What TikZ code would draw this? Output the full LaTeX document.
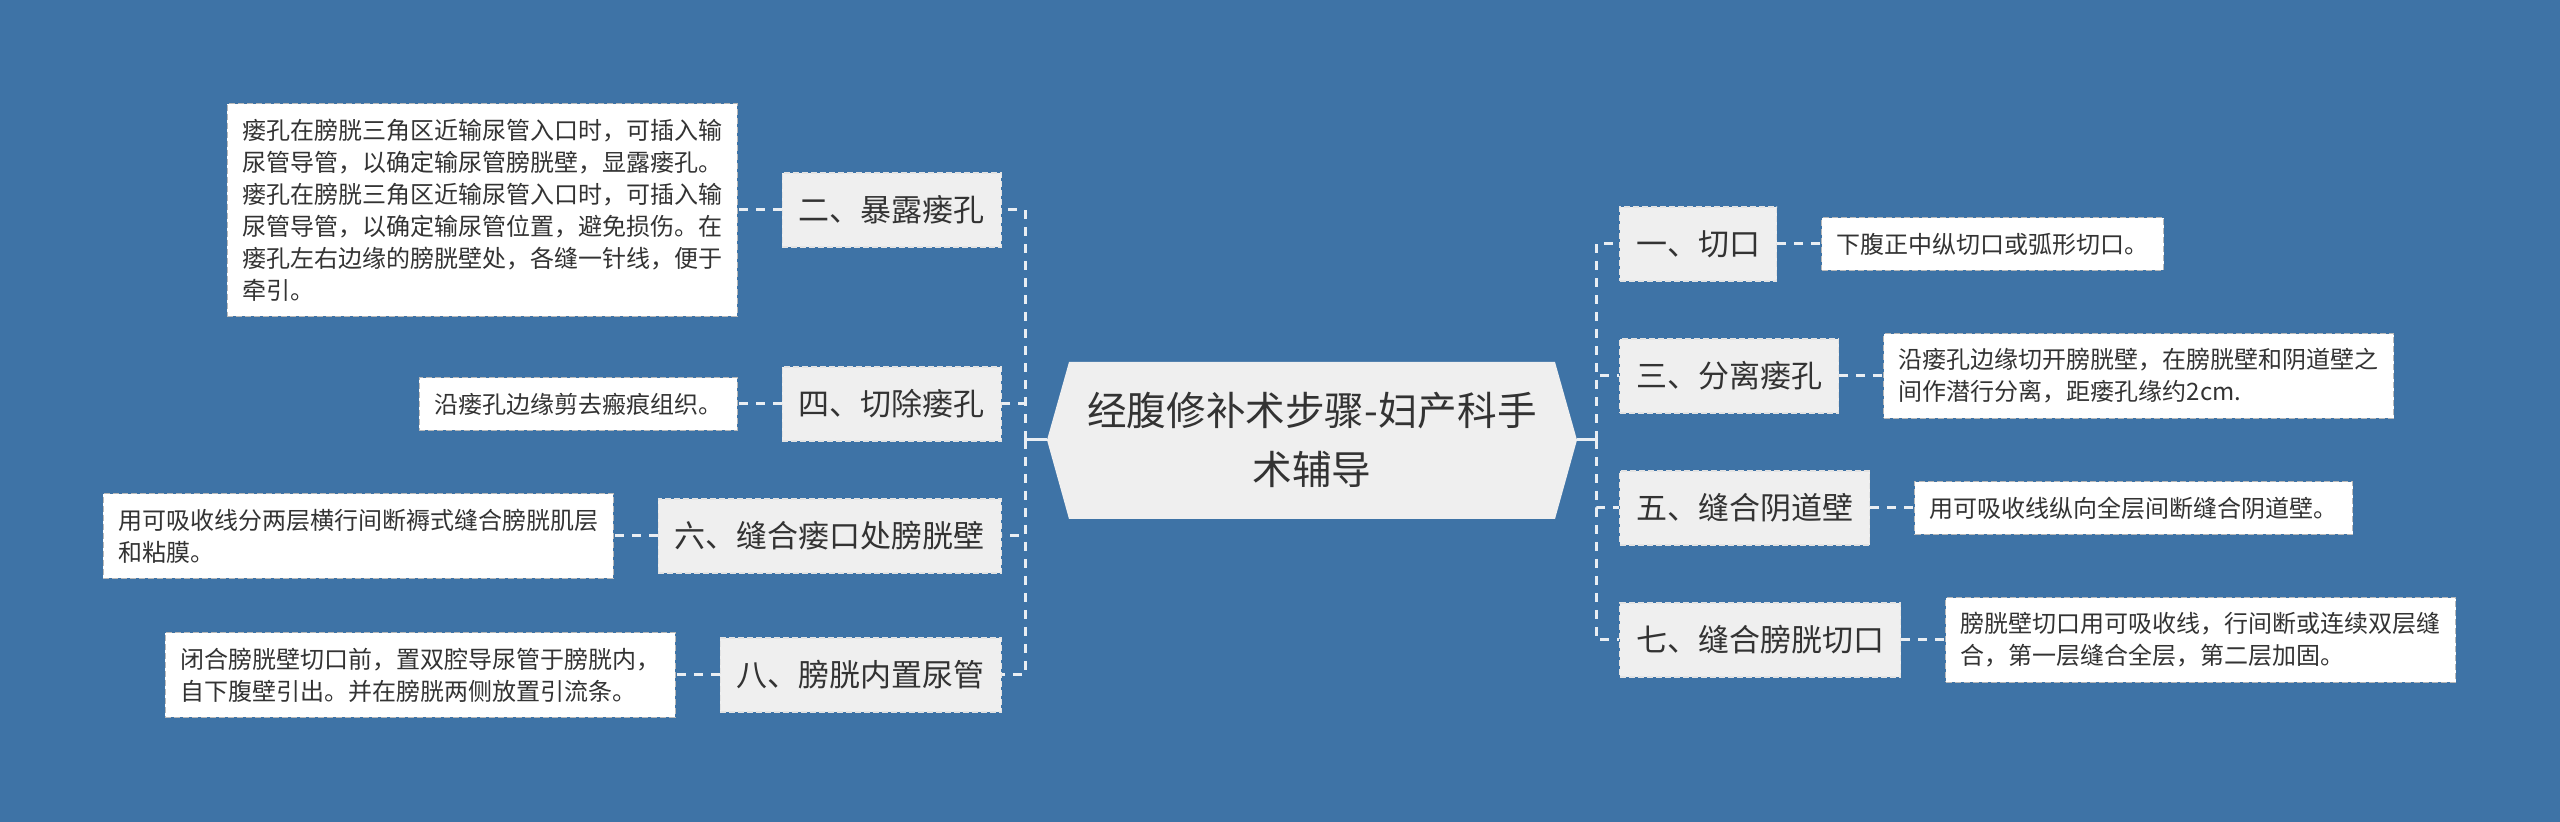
\documentclass[tikz,border=0pt]{standalone}
\usepackage{fontspec}
\setmainfont{Noto Sans CJK SC}
\usetikzlibrary{positioning}
\definecolor{bgblue}{HTML}{3E73A6}
\definecolor{boxgray}{HTML}{EFEFEF}
\definecolor{txt}{HTML}{333333}
\definecolor{linkcol}{HTML}{E9EEF3}

\begin{document}
\begin{tikzpicture}[x=0.5pt,y=-0.5pt,node distance=22pt,
  root/.style={minimum width=265pt,minimum height=78.5pt,inner sep=0pt,align=center,text=txt,font=\fontsize{19.8}{29.5}\selectfont},
  branch/.style={fill=boxgray,draw=white!78!gray,dash pattern=on 3pt off 1.5pt,line width=0.6pt,text=txt,minimum height=37pt,inner xsep=8.25pt,inner ysep=0pt,font=\fontsize{15.5}{18}\selectfont},
  leaf/.style={fill=white,draw=gray!55,dash pattern=on 3pt off 1.5pt,line width=0.6pt,text=txt,align=left,inner xsep=7.5pt,inner ysep=7.5pt,font=\fontsize{12}{16}\selectfont},
  link/.style={draw=linkcol,line width=1.5pt,dash pattern=on 4.5pt off 4pt},
  stub/.style={draw=linkcol,line width=1.5pt}]
  % Sfondo
  \useasboundingbox (0,0) rectangle (2560,822);
  \fill[bgblue] (0,0) rectangle (2560,822);

  % Radice
  \fill[boxgray] (1047,440) -- (1069,362) -- (1555,362) -- (1577,440)
    -- (1555,519) -- (1069,519) -- cycle;
  \node[root] (root) at (1312,440) {经腹修补术步骤-妇产科手\\术辅导};

  % Passi a sinistra
  \node[branch,anchor=east] (s2) at (1002,210) {二、暴露瘘孔};
  \node[branch,anchor=east] (s4) at (1002,404) {四、切除瘘孔};
  \node[branch,anchor=east] (s6) at (1002,536) {六、缝合瘘口处膀胱壁};
  \node[branch,anchor=east] (s8) at (1002,675) {八、膀胱内置尿管};

  % Passi a destra
  \node[branch,anchor=west] (s1) at (1619,244) {一、切口};
  \node[branch,anchor=west] (s3) at (1619,376) {三、分离瘘孔};
  \node[branch,anchor=west] (s5) at (1619,508) {五、缝合阴道壁};
  \node[branch,anchor=west] (s7) at (1619,640) {七、缝合膀胱切口};

  % Dettagli
  \node[leaf,left=of s2] (d2) {瘘孔在膀胱三角区近输尿管入口时，可插入输\\尿管导管，以确定输尿管膀胱壁，显露瘘孔。\\瘘孔在膀胱三角区近输尿管入口时，可插入输\\尿管导管，以确定输尿管位置，避免损伤。在\\瘘孔左右边缘的膀胱壁处，各缝一针线，便于\\牵引。};
  \node[leaf,left=of s4] (d4) {沿瘘孔边缘剪去瘢痕组织。};
  \node[leaf,left=of s6] (d6) {用可吸收线分两层横行间断褥式缝合膀胱肌层\\和粘膜。};
  \node[leaf,left=of s8] (d8) {闭合膀胱壁切口前，置双腔导尿管于膀胱内，\\自下腹壁引出。并在膀胱两侧放置引流条。};
  \node[leaf,right=of s1] (d1) {下腹正中纵切口或弧形切口。};
  \node[leaf,right=of s3] (d3) {沿瘘孔边缘切开膀胱壁，在膀胱壁和阴道壁之\\间作潜行分离，距瘘孔缘约2cm.};
  \node[leaf,right=of s5] (d5) {用可吸收线纵向全层间断缝合阴道壁。};
  \node[leaf,right=of s7] (d7) {膀胱壁切口用可吸收线，行间断或连续双层缝\\合，第一层缝合全层，第二层加固。};

  % Collegamenti
  \coordinate (lj) at (1025,440);
  \coordinate (rj) at (1596,440);
  \draw[stub] (root.west) -- (lj);
  \draw[stub] (root.east) -- (rj);
  \foreach \s in {s2,s4,s6,s8}
    \draw[link] (lj) |- (\s.east);
  \foreach \s in {s1,s3,s5,s7}
    \draw[link] (rj) |- (\s.west);
  \foreach \s/\d in {s2/d2,s4/d4,s6/d6,s8/d8}
    \draw[link] (\s.west) -- (\d.east);
  \foreach \s/\d in {s1/d1,s3/d3,s5/d5,s7/d7}
    \draw[link] (\s.east) -- (\d.west);
\end{tikzpicture}
\end{document}
